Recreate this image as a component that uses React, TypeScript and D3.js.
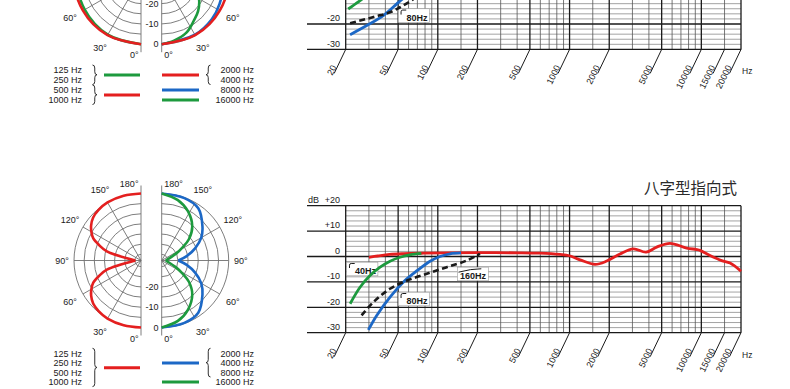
import React from "react";
import * as d3 from "d3";

type Pt = [number, number];

// ---------- frequency axis values ----------
const freqTicks = [20, 50, 100, 200, 500, 1000, 2000, 5000, 10000, 15000, 20000];
const freqMajor = [50, 100, 200, 500, 1000, 2000, 5000, 10000];
const freqMinor = [30, 40, 60, 70, 80, 90, 150, 300, 400, 600, 700, 800, 900, 1500, 3000, 4000, 6000, 7000, 8000, 9000, 15000];
const dbMajor = [20, 10, 0, -10, -20, -30];
const dbMajorLabels = ["+20", "+10", "0", "-10", "-20", "-30"];
const dbMinor = [18, 16, 14, 12, 8, 6, 4, 2, -2, -4, -6, -8, -12, -14, -16, -18, -22, -24, -26, -28];

// ---------- lower chart (figure-8) responses [Hz, dB] ----------
const fig8Red: Pt[] = [[30, -0.3], [35, 0.2], [43, 0.8], [55, 1.1], [78, 1.3], [120, 1.45], [200, 1.5], [400, 1.45], [596, 1.3], [846, 0.8], [995, 0.3], [1200, -1.3], [1560, -3.1], [1914, -1.8], [2414, 1.0], [3047, 3.0], [3804, 1.7], [4584, 3.7], [5780, 5.2], [7740, 3.3], [9226, 2.75], [9780, 2.4], [11640, 0.4], [14270, -1.6], [16520, -2.6], [20000, -5.8]];
const fig8Green: Pt[] = [[21.6, -18.6], [25.7, -12.1], [30.6, -7.5], [36.5, -4.2], [43.4, -1.85], [51.7, -0.3], [61.5, 0.65], [75, 1.2]];
const fig8Blue: Pt[] = [[29.7, -28.9], [34.4, -23.2], [43.4, -16], [54.7, -10.1], [70, -5.5], [87.3, -1.85], [104, 0], [124, 1.05], [150, 1.4]];
const fig8Dashed: Pt[] = [[26.4, -23.2], [32.4, -18], [43.4, -12.7], [58.5, -9.45], [82.4, -6.8], [116.9, -4.2], [165.7, -1.6], [209, 1.05]];

// ---------- upper chart responses [Hz, dB] ----------
const topGreen: Pt[] = [[20.9, -14.1], [25.7, -10.8], [33, -6.5], [45, -2.8], [60, -0.8], [80, 0.3]];
const topBlue: Pt[] = [[21.6, -24.2], [28.9, -20.6], [38.6, -16.7], [48.8, -12.1], [55, -9.8], [68, -6], [88, -2]];
const topDashed: Pt[] = [[21.6, -19.7], [33.4, -17.1], [43.4, -15.4], [51.7, -13.4], [61.5, -11.1], [75, -8], [100, -4.5]];

// filter annotations: label, box top-left corner [Hz, dB], symbol
const fig8Filters = [
  { label: "40Hz", f: 20.35, db: -2.24, sym: "cut" },
  { label: "80Hz", f: 50.1, db: -14.06, sym: "cut" },
  { label: "160Hz", f: 140.6, db: -4.2, sym: "shelf" },
];
const topFilters = [{ label: "80Hz", f: 50.1, db: -14.0, sym: "cut" }];

// ---------- polar patterns ----------
const polarRingsDb = [0, -5, -10, -15, -20, -25, -30];
const polarSpokes = [30, 60, 90, 120, 150];
const polarAngleLabels = [0, 30, 60, 90, 120, 150, 180];
const polarDbLabels = [0, -10, -20];

// figure-8 front lobe [deg from 0°, dB], mirrored to rear lobe
const fig8PolarRed: Pt[] = [[0, 0], [15, 0], [30, 0], [40, -0.5], [48, -1.3], [55, -3], [60, -4.8], [65, -7], [70, -11.2], [75, -15.6], [90, -30.2]];
const fig8PolarBlue: Pt[] = [[0, 0], [20, -0.3], [35, -1.6], [50, -6.8], [60, -10.5], [70, -15.5], [80, -20.5], [90, -24.8]];
const fig8PolarGreen: Pt[] = [[0, 0], [15, -2.2], [28, -5.5], [42, -10.5], [52, -16], [58, -21], [64, -25], [90, -31]];

// upper polar (full 0..180)
const topPolarLeftRed: Pt[] = [[0, 0], [30, 0], [60, 0], [90, 0], [120, 0], [150, 0], [180, 0]];
const topPolarLeftGreen: Pt[] = [[0, 0], [30, -0.3], [60, -1], [90, -1.5], [120, -2], [150, -2.5], [180, -3]];
const topPolarRightRed: Pt[] = [[0, 0], [30, 0], [60, 0], [90, 0], [120, 0], [150, 0], [180, 0]];
const topPolarRightBlue: Pt[] = [[0, 0], [30, -0.3], [50, -0.8], [65, -1.6], [80, -2.6], [100, -4], [130, -6], [180, -8]];
const topPolarRightGreen: Pt[] = [[0, 0], [11, -1.2], [24, -3.1], [37, -6.5], [47, -8.5], [59, -11.5], [75, -16], [90, -20], [120, -22], [150, -18], [180, -15]];

// ---------- legends ----------
const topLegendLeft = [
  { labels: ["125 Hz", "250 Hz"], color: "green", brace: true },
  { labels: ["500 Hz", "1000 Hz"], color: "red", brace: true },
];
const topLegendRight = [
  { labels: ["2000 Hz", "4000 Hz"], color: "red", brace: true },
  { labels: ["8000 Hz"], color: "blue", brace: false },
  { labels: ["16000 Hz"], color: "green", brace: false },
];
const fig8LegendLeft = [{ labels: ["125 Hz", "250 Hz", "500 Hz", "1000 Hz"], color: "red", brace: true }];
const fig8LegendRight = [
  { labels: ["2000 Hz", "4000 Hz", "8000 Hz"], color: "blue", brace: true },
  { labels: ["16000 Hz"], color: "green", brace: false },
];

const fig8Title = "八字型指向式";

// ---------- styles / layout ----------
const COLORS: Record<string, string> = { red: "#e41f1f", green: "#1d9a3e", blue: "#1c68c6" };
const INK = "#1a1a1a";
const FONT = "'Liberation Sans', Arial, Helvetica, sans-serif";
const SHIFT = 283.3;
const PLOT_L = 345.7, PLOT_R = 741, PLOT_T = 205.7, PLOT_B = 332.7, GRID_EXT_L = 307;
const PCX_L = 141, PCX_R = 161.7, PCY = 260.5, PR = 67;
const MIN_TEXT_Y = 3; // texts whose baseline lies above this are outside the page

const curve = d3.curveCatmullRom.alpha(0.5);

function FreqChart({ dy, curves, filters, title }: any) {
  const x = d3.scaleLog().domain([20, 20000]).range([PLOT_L, PLOT_R]);
  const y = d3.scaleLinear().domain([-30, 20]).range([PLOT_B + dy, PLOT_T + dy]);
  const line = d3.line<Pt>().x((d) => x(d[0])).y((d) => y(d[1])).curve(curve);
  const yB = y(-30), yT = y(20);
  return (
    <g>
      {dbMinor.map((v) => (
        <line key={"hm" + v} x1={PLOT_L} x2={PLOT_R} y1={y(v)} y2={y(v)} stroke="#8c8c8c" strokeWidth={0.8} />
      ))}
      {freqMinor.map((f) => (
        <line key={"vm" + f} x1={x(f)} x2={x(f)} y1={yT} y2={yB} stroke="#555" strokeWidth={0.8} />
      ))}
      {[20, ...freqMajor, 20000].map((f) => (
        <line key={"vM" + f} x1={x(f)} x2={x(f)} y1={yT} y2={yB} stroke={INK} strokeWidth={1.3} />
      ))}
      {dbMajor.map((v) => (
        <line key={"hM" + v} x1={GRID_EXT_L} x2={PLOT_R} y1={y(v)} y2={y(v)} stroke={INK} strokeWidth={1.3} />
      ))}
      {dbMajor.map((v, i) =>
        y(v) - 2.8 > MIN_TEXT_Y ? (
          <text key={"dl" + v} x={340} y={y(v) - 2.8} fontSize={9} textAnchor="end" fill={INK}>
            {dbMajorLabels[i]}
          </text>
        ) : null
      )}
      {yT - 2.8 > MIN_TEXT_Y ? (
        <text x={308} y={yT - 2.8} fontSize={9} fill={INK}>dB</text>
      ) : null}
      {freqTicks.map((f) => {
        const x0 = x(f);
        return (
          <g key={"t" + f}>
            <line x1={x0} y1={yB} x2={x0 - 11.5} y2={yB + 24} stroke={INK} strokeWidth={1} />
            <text
              transform={`translate(${x0 - 9},${yB + 17.5}) rotate(-64)`}
              fontSize={9}
              textAnchor="end"
              fill={INK}
            >
              {f}
            </text>
          </g>
        );
      })}
      <text x={742} y={yB + 25} fontSize={8.5} fill={INK}>Hz</text>
      {filters.map((fl: any, i: number) => {
        const L = x(fl.f), T = y(fl.db);
        const textW = fl.label.length * 5.3;
        const w = textW + (fl.sym === "cut" ? 10 : 4.5);
        const h = 13.6;
        return (
          <g key={"f" + i}>
            <rect x={L} y={T} width={w} height={h} fill="#fff" stroke="#9a9a9a" strokeWidth={0.6} />
            {fl.sym === "cut" ? (
              <path
                d={`M${L + 2.8},${T + 5.8} L${L + 2.8},${T + 3} Q${L + 2.8},${T + 1.3} ${L + 4.5},${T + 1.3} L${L + 8},${T + 1.3}`}
                fill="none"
                stroke={INK}
                strokeWidth={1}
              />
            ) : (
              <path
                d={`M${L + 1.2},${T + 5} Q${L + 14},${T + 1.6} ${L + 24},${T + 1.6}`}
                fill="none"
                stroke={INK}
                strokeWidth={1}
              />
            )}
            <text
              x={fl.sym === "cut" ? L + 8.3 : L + 2.7}
              y={T + 12.2}
              fontSize={9}
              fontWeight="bold"
              fill={INK}
            >
              {fl.label}
            </text>
          </g>
        );
      })}
      {curves.map((c: any, i: number) => (
        <path
          key={"c" + i}
          d={line(c.data) || ""}
          fill="none"
          stroke={c.dashed ? INK : COLORS[c.color]}
          strokeWidth={c.dashed ? 2.6 : 2.8}
          strokeDasharray={c.dashed ? "6 3.5" : undefined}
          strokeLinecap="butt"
        />
      ))}
      {title ? (
        <text x={737} y={yT - 11.5} fontSize={15.5} textAnchor="end" fill="#2a2a2a" fontFamily="'Noto Sans CJK SC', sans-serif">
          {title}
        </text>
      ) : null}
    </g>
  );
}

const rScale = d3.scaleLinear().domain([-33, 0]).range([0, PR]).clamp(true);

function polarPoint(cx: number, cy: number, side: number, a: number, db: number): Pt {
  const r = rScale(db);
  const th = (a * Math.PI) / 180;
  return [cx + side * r * Math.sin(th), cy + r * Math.cos(th)];
}

function PolarHalf({ cx, cy, side, patterns }: any) {
  const pl = d3.line<Pt>().curve(curve);
  const ext = 8;
  return (
    <g>
      {polarRingsDb.map((db) => {
        const r = rScale(db);
        return (
          <path
            key={"r" + db}
            d={`M${cx},${cy - r} A${r},${r} 0 0 ${side > 0 ? 1 : 0} ${cx},${cy + r}`}
            fill="none"
            stroke="#6f6f6f"
            strokeWidth={0.9}
          />
        );
      })}
      {polarSpokes.map((a) => {
        const p = polarPoint(cx, cy, side, a, 0);
        return <line key={"s" + a} x1={cx} y1={cy} x2={p[0]} y2={p[1]} stroke="#6f6f6f" strokeWidth={0.9} />;
      })}
      <line x1={cx} x2={cx} y1={cy - PR - ext} y2={cy + PR + ext} stroke="#6f6f6f" strokeWidth={0.9} />
      {polarAngleLabels.map((a) => {
        if (a === 0 || a === 180) {
          const yy = (a === 0 ? cy + 77.8 : cy - 77.2) + 3.2;
          if (yy < MIN_TEXT_Y) return null;
          return (
            <text key={"al" + a} x={cx + side * 2.5} y={yy} fontSize={9} textAnchor={side < 0 ? "end" : "start"} fill={INK}>
              {a}°
            </text>
          );
        }
        const rr = a === 90 ? 79 : 82;
        const th = (a * Math.PI) / 180;
        const lx = cx + side * rr * Math.sin(th);
        const ly = cy + rr * Math.cos(th) + 3.2;
        if (ly < MIN_TEXT_Y) return null;
        return (
          <text key={"al" + a} x={lx} y={ly} fontSize={9} textAnchor="middle" fill={INK}>
            {a}°
          </text>
        );
      })}
      {patterns.map((p: any, i: number) => {
        const pts = p.data.map((d: Pt) => polarPoint(cx, cy, side, d[0], d[1]));
        const paths = [pl(pts) || ""];
        if (p.mirror) {
          const back = p.data.map((d: Pt) => polarPoint(cx, cy, side, 180 - d[0], d[1]));
          paths.push(pl(back) || "");
        }
        return paths.map((dd, j) => (
          <path key={"p" + i + "_" + j} d={dd} fill="none" stroke={COLORS[p.color]} strokeWidth={2.6} />
        ));
      })}
    </g>
  );
}

function PolarPair({ dy, left, right }: any) {
  const cy = PCY + dy;
  return (
    <g>
      <PolarHalf cx={PCX_L} cy={cy} side={-1} patterns={left} />
      <PolarHalf cx={PCX_R} cy={cy} side={1} patterns={right} />
      {polarDbLabels.map((db) => (
        <text key={"db" + db} x={PCX_R - 3.2} y={cy + rScale(db) + 3.2} fontSize={9} textAnchor="end" fill={INK}>
          {db}
        </text>
      ))}
    </g>
  );
}

function bracePath(x: number, y1: number, y2: number, dir: number) {
  const w = 4.5 * dir;
  const m = (y1 + y2) / 2;
  const hw = w * 0.5;
  return `M${x},${y1} Q${x + hw},${y1} ${x + hw},${y1 + 3} L${x + hw},${m - 3} Q${x + hw},${m} ${x + w},${m} Q${x + hw},${m} ${x + hw},${m + 3} L${x + hw},${y2 - 3} Q${x + hw},${y2} ${x},${y2}`;
}

function Legend({ y0, step, left, right }: any) {
  const els: any[] = [];
  let row = 0;
  left.forEach((g: any, gi: number) => {
    const first = row;
    g.labels.forEach((lb: string) => {
      els.push(
        <text key={"ll" + row} x={82} y={y0 + row * step + 3.2} fontSize={9} textAnchor="end" fill={INK}>
          {lb}
        </text>
      );
      row++;
    });
    const last = row - 1;
    const cyy = y0 + ((first + last) / 2) * step;
    if (g.brace)
      els.push(
        <path key={"lb" + gi} d={bracePath(92.5, y0 + first * step - 5, y0 + last * step + 4.5, 1)} fill="none" stroke={INK} strokeWidth={0.9} />
      );
    els.push(<line key={"lL" + gi} x1={104} x2={140} y1={cyy} y2={cyy} stroke={COLORS[g.color]} strokeWidth={3} />);
  });
  row = 0;
  right.forEach((g: any, gi: number) => {
    const first = row;
    g.labels.forEach((lb: string) => {
      els.push(
        <text key={"rl" + row} x={254} y={y0 + row * step + 3.2} fontSize={9} textAnchor="end" fill={INK}>
          {lb}
        </text>
      );
      row++;
    });
    const last = row - 1;
    const cyy = y0 + ((first + last) / 2) * step;
    if (g.brace)
      els.push(
        <path key={"rb" + gi} d={bracePath(210.5, y0 + first * step - 5, y0 + last * step + 4.5, -1)} fill="none" stroke={INK} strokeWidth={0.9} />
      );
    els.push(<line key={"rL" + gi} x1={162} x2={199} y1={cyy} y2={cyy} stroke={COLORS[g.color]} strokeWidth={3} />);
  });
  return <g>{els}</g>;
}

export default function App() {
  return (
    <svg
      width={790}
      height={389}
      viewBox="0 0 790 389"
      style={{ position: "absolute", left: 0, top: 0, background: "#fff", display: "block" }}
      fontFamily={FONT}
    >
      <rect x={0} y={0} width={790} height={389} fill="#fff" />
      {/* upper (cut-off) panel */}
      <PolarPair
        dy={-SHIFT}
        left={[
          { data: topPolarLeftGreen, color: "green" },
          { data: topPolarLeftRed, color: "red" },
        ]}
        right={[
          { data: topPolarRightBlue, color: "blue" },
          { data: topPolarRightGreen, color: "green" },
          { data: topPolarRightRed, color: "red" },
        ]}
      />
      <Legend y0={70} step={10} left={topLegendLeft} right={topLegendRight} />
      <FreqChart
        dy={-SHIFT}
        filters={topFilters}
        curves={[
          { data: topGreen, color: "green" },
          { data: topBlue, color: "blue" },
          { data: topDashed, dashed: true },
        ]}
      />
      {/* lower panel: figure-8 */}
      <PolarPair
        dy={0}
        left={[{ data: fig8PolarRed, color: "red", mirror: true }]}
        right={[
          { data: fig8PolarBlue, color: "blue", mirror: true },
          { data: fig8PolarGreen, color: "green", mirror: true },
        ]}
      />
      <Legend y0={353.3} step={9.6} left={fig8LegendLeft} right={fig8LegendRight} />
      <FreqChart
        dy={0}
        title={fig8Title}
        filters={fig8Filters}
        curves={[
          { data: fig8Red, color: "red" },
          { data: fig8Green, color: "green" },
          { data: fig8Blue, color: "blue" },
          { data: fig8Dashed, dashed: true },
        ]}
      />
    </svg>
  );
}
